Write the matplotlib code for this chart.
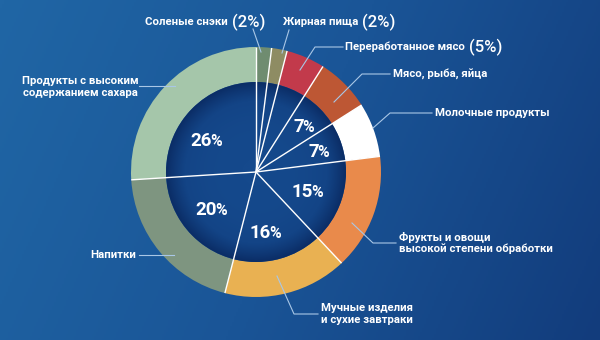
import numpy as np
import matplotlib.pyplot as plt
from matplotlib.colors import LinearSegmentedColormap
from matplotlib.patches import Circle

# данные
categories = ["Соленые снэки", "Жирная пища", "Переработанное мясо",
              "Мясо, рыба, яйца", "Молочные продукты",
              "Фрукты и овощи\nвысокой степени обработки",
              "Мучные изделия\nи сухие завтраки", "Напитки",
              "Продукты с высоким\nсодержанием сахара"]
shares = [2, 2, 5, 7, 7, 15, 16, 20, 26]
colors = ["#6f8c70", "#8e8c63", "#c23a4b", "#bd5734", "#ffffff",
          "#e98a4b", "#e9b152", "#7e9580", "#a5c6aa"]

W, H = 600, 340
cx, cy = 256, H - 172
r_out, ring = 125, 35
r_in = r_out - ring

plt.rcParams['font.family'] = ['Roboto', 'DejaVu Sans']

fig = plt.figure(figsize=(6, 3.4), dpi=100)
ax = fig.add_axes([0, 0, 1, 1])

# фон
X, Y = np.meshgrid(np.linspace(0, 1, 300), np.linspace(0, 1, 170))
bg = LinearSegmentedColormap.from_list("bg", ["#2066a5", "#1a5597", "#123c7c"])
ax.imshow(0.8 * X + 0.2 * Y, cmap=bg, extent=[0, W, 0, H], origin='upper',
          aspect='auto', zorder=0)

# кольцо
ax.pie(shares, colors=colors, startangle=90, counterclock=False,
       center=(cx, cy), radius=r_out, frame=True,
       wedgeprops=dict(width=ring, linewidth=0))

ax.set_xlim(0, W)
ax.set_ylim(0, H)
ax.set_aspect('equal')
ax.axis('off')
renderer = fig.canvas.get_renderer()

# внутренний круг с тенью
hx, hy = np.meshgrid(np.linspace(-1, 1, 200), np.linspace(-1, 1, 200))
rr = np.sqrt(hx ** 2 + hy ** 2)
hole_cmap = LinearSegmentedColormap.from_list("hole", ["#15498c", "#134486", "#0b2d66"])
im = ax.imshow(rr ** 3, cmap=hole_cmap, vmin=0, vmax=1,
               extent=[cx - r_in, cx + r_in, cy - r_in, cy + r_in], zorder=3)
im.set_clip_path(Circle((cx, cy), r_in, transform=ax.transData))

# белые разделители
bounds = np.concatenate([[0], np.cumsum(shares)[:-1]])
for b in bounds:
    a = np.deg2rad(90 - 360 * b / sum(shares))
    ax.plot([cx, cx + r_out * np.cos(a)], [cy, cy + r_out * np.sin(a)],
            color='white', lw=1, zorder=4, solid_capstyle='butt')


def pct_label(x, y, val, size=13.5):
    # число и знак % поменьше, на одной базовой линии
    ax.text(x, H - y, str(val), color='white', fontsize=size,
            fontweight='bold', ha='right', va='baseline', zorder=5)
    ax.text(x - 1.5, H - y, "%", color='white', fontsize=size * 0.85,
            fontweight='bold', ha='left', va='baseline', zorder=5)


# проценты внутри круга (y — базовая линия)
inner_pos = {8: (212, 146), 7: (217, 215), 6: (271, 238),
             5: (313, 197), 3: (304, 132), 4: (319, 157)}
for i, (x, y) in inner_pos.items():
    pct_label(x, y, shares[i])

# подписи и выноски
lead = '#a9c7e6'
leaders = [
    [(253, 29), (261, 52)],
    [(289, 30), (282, 53)],
    [(343, 47), (315, 47), (300, 70)],
    [(390, 74), (362, 74), (334, 102)],
    [(432, 113), (390, 113), (373, 128)],
    [(396, 243), (373, 243), (352, 223)],
    [(318, 314), (294, 314), (277, 276)],
    [(139, 255), (174, 255)],
    [(139, 86), (175, 86)],
]
for pts in leaders:
    xs = [p[0] for p in pts]
    ys = [H - p[1] for p in pts]
    ax.plot(xs, ys, color=lead, lw=0.8, zorder=6)

fs = 8.2
label_pos = [(145, 22, 'left'), (283, 22, 'left'), (345, 47, 'left'),
             (393, 74, 'left'), (435, 113, 'left'), (399, 243, 'left'),
             (321, 314, 'left'), (136, 255, 'right'), (80, 87, 'center')]
for i, (x, y, ha) in enumerate(label_pos):
    t = ax.text(x, H - y, categories[i], color='white', fontsize=fs,
                fontweight='bold', ha=ha, va='center', zorder=6,
                linespacing=1.15, multialignment='left' if ha == 'left' else 'center')
    if i < 3:
        bb = t.get_window_extent(renderer)
        ax.text(bb.x1 + 4, H - y, "(" + str(shares[i]) + "%)", color='white',
                fontsize=12, fontweight='medium', ha='left', va='center',
                zorder=6)

fig.savefig("out.png", dpi=100)
